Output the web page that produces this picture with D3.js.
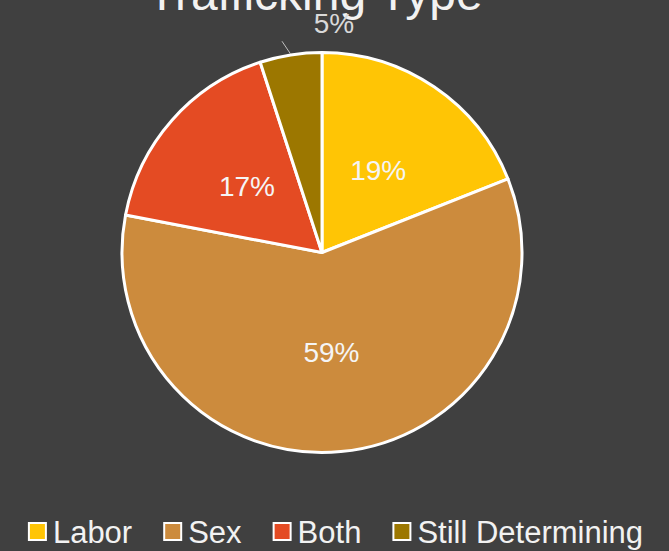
<!DOCTYPE html>
<html>
<head>
<meta charset="utf-8">
<script src="https://cdn.jsdelivr.net/npm/d3@7"></script>
<style>
  html, body { margin: 0; padding: 0; background: #404040; }
  svg { display: block; font-family: "Liberation Sans", Arial, sans-serif; }
</style>
</head>
<body>
<svg width="669" height="551"></svg>
<script>
var categories = ["Labor", "Sex", "Both", "Still Determining"]
var values = [19, 59, 17, 5]
var colors = ["#FFC505", "#CC8B3D", "#E44B23", "#9C7700"]

var svg = d3.select("svg")
var cx = 322, cy = 252.5, R = 200

svg.append("rect").attr("width", 669).attr("height", 551).attr("fill", "#404040")

// title, clipped by the top edge like the original
svg.append("text")
  .attr("x", 315).attr("y", 10)
  .attr("text-anchor", "middle")
  .attr("fill", "#f2f2f2")
  .style("font-size", "48px")
  .text("Trafficking Type")

var data = categories.map((c, i) => ({name: c, value: values[i], color: colors[i]}))

var pie = d3.pie().value(d => d.value).sort(null)
var arc = d3.arc().innerRadius(0).outerRadius(R)
var arcs = pie(data)

var g = svg.append("g").attr("transform", "translate(" + cx + "," + cy + ")")

g.selectAll("path.slice")
  .data(arcs)
  .enter()
  .append("path")
  .attr("class", "slice")
  .attr("d", arc)
  .attr("fill", d => d.data.color)
  .attr("stroke", "#ffffff")
  .attr("stroke-width", 3)
  .attr("stroke-linejoin", "round")

// inside labels for the big slices
g.selectAll("text.inner")
  .data(arcs.filter(d => d.data.value >= 10))
  .enter()
  .append("text")
  .attr("class", "inner")
  .attr("x", d => arc.centroid(d)[0])
  .attr("y", d => arc.centroid(d)[1])
  .attr("dy", "0.36em")
  .attr("text-anchor", "middle")
  .attr("fill", "#f5f5f5")
  .style("font-size", "28px")
  .text(d => d.data.value + "%")

// outside label with leader line for the small slice
var small = arcs.filter(d => d.data.value < 10)
small.forEach(d => {
  var a = (d.startAngle + d.endAngle) / 2
  var x1 = Math.sin(a) * (R + 1), y1 = -Math.cos(a) * (R + 1)
  var x2 = Math.sin(a - 0.03) * (R + 15), y2 = -Math.cos(a - 0.03) * (R + 15)
  g.append("line")
    .attr("x1", x1).attr("y1", y1)
    .attr("x2", x2).attr("y2", y2)
    .attr("stroke", "#bfbfbf")
    .attr("stroke-width", 1)
  g.append("text")
    .attr("x", x2 + 52)
    .attr("y", y2 - 8)
    .attr("text-anchor", "middle")
    .attr("fill", "#d9d9d9")
    .style("font-size", "28px")
    .text(d.data.value + "%")
})

// legend
var legend = svg.append("g").attr("class", "legend")
var box = 19, gap = 6, spacing = 31
var x = 0
data.forEach(d => {
  var item = legend.append("g").attr("transform", "translate(" + x + ",0)")
  item.append("rect")
    .attr("x", 1).attr("y", 523)
    .attr("width", box - 2).attr("height", box - 2)
    .attr("fill", d.color)
    .attr("stroke", "#ffffff")
    .attr("stroke-width", 2)
  var t = item.append("text")
    .attr("x", box + gap).attr("y", 543)
    .attr("fill", "#f2f2f2")
    .style("font-size", "31px")
    .text(d.name)
  x += box + gap + t.node().getComputedTextLength() + spacing
})
var total = x - spacing
legend.attr("transform", "translate(" + (335.5 - total / 2) + ",0)")
</script>
</body>
</html>
